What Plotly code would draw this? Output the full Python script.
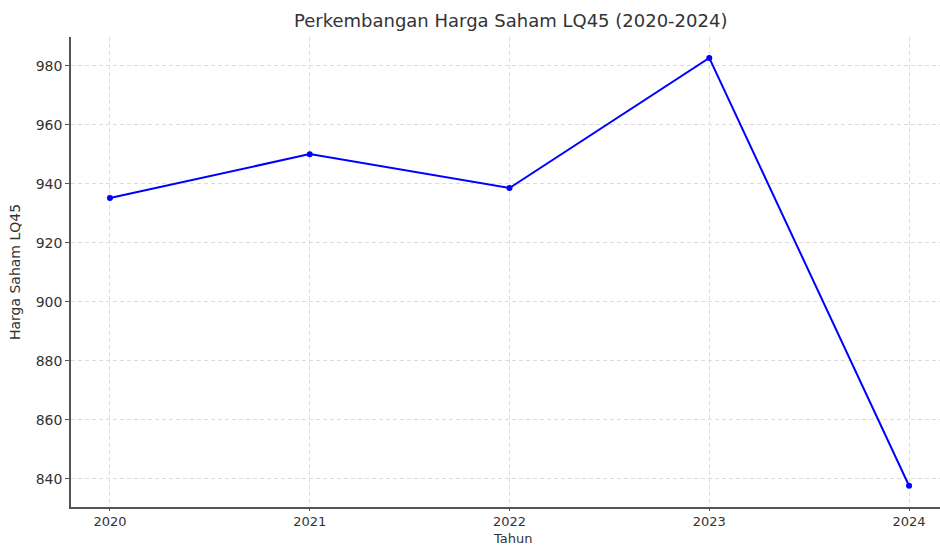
import plotly.graph_objects as go

years = [2020, 2021, 2022, 2023, 2024]
prices = [935.2, 950.1, 938.6, 982.7, 837.7]
y_ticks = [840, 860, 880, 900, 920, 940, 960, 980]

fig = go.Figure()
fig.add_trace(go.Scatter(
    x=years, y=prices, mode="lines+markers",
    line=dict(color="#0000ff", width=2),
    marker=dict(color="#0000ff", size=6),
))

fig.update_layout(
    width=940, height=545,
    margin=dict(l=71, r=0, t=37, b=38, autoexpand=False),
    plot_bgcolor="white", paper_bgcolor="white",
    showlegend=False,
    font=dict(family="DejaVu Sans", size=14, color="#333333"),
    title=dict(text="Perkembangan Harga Saham LQ45 (2020-2024)", x=0.506, xanchor="center",
               xref="paper", y=1 - 21/545, yanchor="middle", font=dict(size=18, color="#333333")),
    annotations=[dict(text="Tahun", xref="paper", yref="paper", x=0.508, y=0, yshift=-31,
                      xanchor="center", yanchor="middle", showarrow=False,
                      font=dict(size=13, color="#333333"))],
)
fig.update_xaxes(
    range=[2019.805, 2024.155], tickvals=years, ticktext=[str(y) for y in years],
    showgrid=True, gridcolor="#dcdcdc", griddash="4px,3px", gridwidth=1,
    showline=True, linecolor="#555555", linewidth=1.5,
    ticks="outside", ticklen=2, tickcolor="#555555", tickfont=dict(size=13),
    zeroline=False, automargin=False,
)
fig.update_yaxes(
    range=[830.5, 989.8], tickvals=y_ticks, ticktext=[str(v) for v in y_ticks],
    showgrid=True, gridcolor="#dcdcdc", griddash="4px,3px", gridwidth=1,
    showline=True, linecolor="#555555", linewidth=1.5,
    ticks="outside", ticklen=4, tickcolor="#555555", tickfont=dict(size=14),
    title=dict(text="Harga Saham LQ45", standoff=12, font=dict(size=14)), zeroline=False,
    automargin=False,
)

fig.write_html("out.html", config={"displayModeBar": False},
               post_script="document.body.style.margin='0';document.body.style.overflow='hidden';")
